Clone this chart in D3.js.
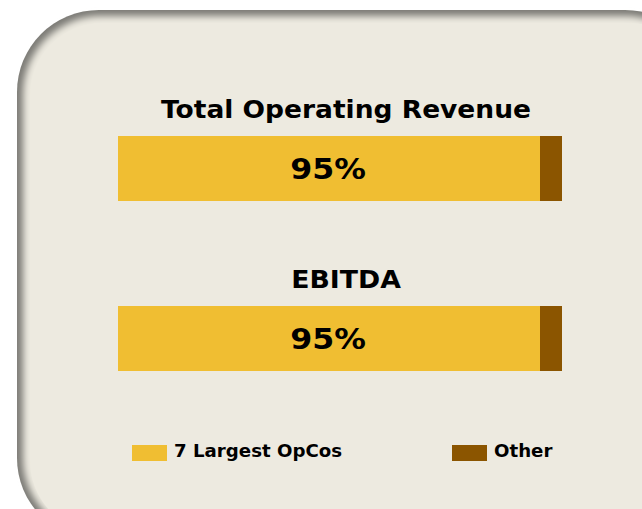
<!DOCTYPE html>
<html>
<head>
<meta charset="utf-8">
<script src="https://cdn.jsdelivr.net/npm/d3@7"></script>
<style>
  body { margin: 0; background: #fff; }
  svg { display: block; }
  text { font-family: "DejaVu Sans", Verdana, sans-serif; font-weight: bold; fill: #000; }
</style>
</head>
<body>
<div id="chart"></div>
<script>
// data
var metrics = ["Total Operating Revenue", "EBITDA"];
var largest = [95, 95];   // 7 Largest OpCos share, %
var other = [5, 5];       // Other, %
var seriesNames = ["7 Largest OpCos", "Other"];
var colors = ["#F0BE32", "#8B5500"];

var width = 642, height = 509;

var svg = d3.select("#chart").append("svg")
    .attr("width", width)
    .attr("height", height);

// rounded panel with soft edge shadow
var defs = svg.append("defs");
defs.append("filter").attr("id", "soft")
    .attr("x", "-10%").attr("y", "-10%").attr("width", "120%").attr("height", "120%")
  .append("feGaussianBlur").attr("stdDeviation", 3.5);

svg.append("rect")
    .attr("x", 17).attr("y", 10)
    .attr("width", 690).attr("height", 530)
    .attr("rx", 82).attr("ry", 82)
    .attr("fill", "#7c7b76");
svg.append("rect")
    .attr("x", 23).attr("y", 16)
    .attr("width", 680).attr("height", 520)
    .attr("rx", 78).attr("ry", 78)
    .attr("fill", "#EDEAE0")
    .attr("filter", "url(#soft)");
svg.append("rect")
    .attr("x", 30).attr("y", 23)
    .attr("width", 670).attr("height", 510)
    .attr("rx", 72).attr("ry", 72)
    .attr("fill", "#EDEAE0");

// scales
var x = d3.scaleLinear()
    .domain([0, 100])
    .range([118, 562]);

var y = d3.scaleBand()
    .domain(metrics)
    .range([136, 371])
    .paddingInner(0.618)
    .paddingOuter(0);

var rows = metrics.map(function(m, i) {
  return { name: m, parts: [largest[i], other[i]] };
});

var g = svg.selectAll(".row")
    .data(rows)
  .enter().append("g")
    .attr("class", "row");

// stacked segments
g.each(function(d) {
  var start = 0;
  var segs = d.parts.map(function(v, j) {
    var s = { x0: start, x1: start + v, color: colors[j] };
    start += v;
    return s;
  });
  d3.select(this).selectAll("rect")
      .data(segs)
    .enter().append("rect")
      .attr("x", function(s) { return x(s.x0); })
      .attr("width", function(s) { return x(s.x1) - x(s.x0); })
      .attr("y", y(d.name))
      .attr("height", y.bandwidth())
      .attr("fill", function(s) { return s.color; })
      .attr("shape-rendering", "crispEdges");
});

// titles above bars (slightly widened to match the Verdana-like original)
g.append("text")
    .attr("transform", function(d, i) {
      return "translate(346," + (y(d.name) - 18) + ") scale(" + (i === 0 ? 1.06 : 1.07) + ",1)";
    })
    .attr("text-anchor", "middle")
    .style("font-size", "25px")
    .text(function(d) { return d.name; });

// percentage labels
g.append("text")
    .attr("transform", function(d) {
      return "translate(328," + (y(d.name) + 43) + ") scale(1.13,1)";
    })
    .attr("text-anchor", "middle")
    .style("font-size", "28px")
    .text(function(d) { return d.parts[0] + "%"; });

// legend
var legendX = [132, 452];
var legend = svg.selectAll(".legend")
    .data(seriesNames)
  .enter().append("g")
    .attr("class", "legend")
    .attr("transform", function(d, i) { return "translate(" + legendX[i] + ",445)"; });

legend.append("rect")
    .attr("width", 35)
    .attr("height", 16)
    .attr("fill", function(d, i) { return colors[i]; });

legend.append("text")
    .attr("transform", "translate(42,12) scale(1.07,1)")
    .style("font-size", "17px")
    .text(function(d) { return d; });
</script>
</body>
</html>
